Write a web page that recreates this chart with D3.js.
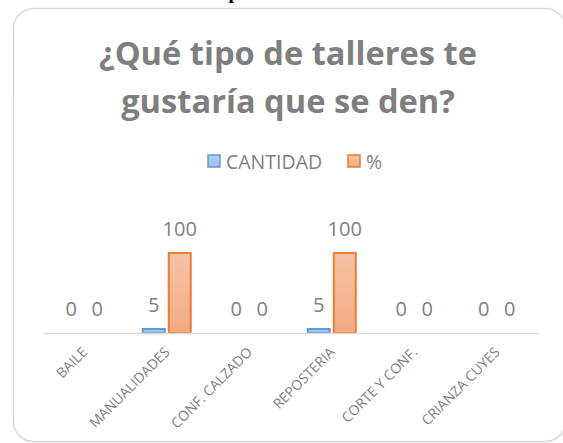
<!DOCTYPE html>
<html>
<head>
<meta charset="utf-8">
<script src="https://cdn.jsdelivr.net/npm/d3@7"></script>
<style>
  html, body { margin: 0; padding: 0; background: #ffffff; }
  svg { display: block; }
</style>
</head>
<body>
<svg id="chart" width="563" height="443"></svg>
<script>
// ---- data ----
const titleLines = ["¿Qué tipo de talleres te", "gustaría que se den?"];
const categories = ["BAILE", "MANUALIDADES", "CONF. CALZADO", "REPOSTERIA", "CORTE Y CONF.", "CRIANZA CUYES"];
const seriesNames = ["CANTIDAD", "%"];
const cantidad = [0, 5, 0, 5, 0, 0];
const porcentaje = [0, 100, 0, 100, 0, 0];

// ---- styles ----
const textColor = "#7f7f7f";
const fills = { "CANTIDAD": "url(#gBlue)", "%": "url(#gOrange)" };
const strokes = { "CANTIDAD": "#5b9bd5", "%": "#ed7d31" };

const svg = d3.select("#chart");

// gradients
const defs = svg.append("defs");
const gb = defs.append("linearGradient").attr("id", "gBlue").attr("x1", 0).attr("y1", 0).attr("x2", 0).attr("y2", 1);
gb.append("stop").attr("offset", "0%").attr("stop-color", "#b5cdef");
gb.append("stop").attr("offset", "100%").attr("stop-color", "#9dbbe6");
const go = defs.append("linearGradient").attr("id", "gOrange").attr("x1", 0).attr("y1", 0).attr("x2", 0).attr("y2", 1);
go.append("stop").attr("offset", "0%").attr("stop-color", "#f7c3a6");
go.append("stop").attr("offset", "100%").attr("stop-color", "#f4aa82");

// fragment of surrounding document text cut off at the top
svg.append("text")
  .attr("x", 234).attr("y", -2.5)
  .attr("text-anchor", "middle")
  .attr("font-family", "Liberation Serif")
  .attr("font-weight", "bold")
  .attr("font-size", 20)
  .attr("fill", "#000")
  .text("p");

// chart frame
svg.append("rect")
  .attr("x", 13.5).attr("y", 8.5)
  .attr("width", 552).attr("height", 433)
  .attr("rx", 20).attr("ry", 20)
  .attr("fill", "#fff")
  .attr("stroke", "#d9d9d9")
  .attr("stroke-width", 1.5);

// title
const titleSel = svg.append("g").selectAll("text")
  .data(titleLines)
  .join("text")
  .attr("x", 288)
  .attr("y", (d, i) => 65 + i * 48)
  .attr("text-anchor", "middle")
  .attr("font-family", "Open Sans")
  .attr("font-weight", "bold")
  .attr("font-size", 30)
  .attr("fill", textColor)
  .text(d => d);
const w0 = titleSel.node().getComputedTextLength();
const fs = 30 * 378 / w0;
titleSel.attr("font-size", fs);

// legend
const legendItems = [
  { name: seriesNames[0], x: 207, tx: 226 },
  { name: seriesNames[1], x: 347, tx: 366 }
];
const lg = svg.append("g");
lg.selectAll("rect")
  .data(legendItems)
  .join("rect")
  .attr("x", d => d.x + 1).attr("y", 155)
  .attr("width", 12).attr("height", 12)
  .attr("fill", d => fills[d.name])
  .attr("stroke", d => strokes[d.name])
  .attr("stroke-width", 1.5);
lg.selectAll("text")
  .data(legendItems)
  .join("text")
  .attr("x", d => d.tx).attr("y", 168.5)
  .attr("font-family", "Open Sans")
  .attr("font-size", 19.5)
  .attr("fill", textColor)
  .text(d => d.name);

// scales
const x0 = d3.scaleBand().domain(categories).range([43, 538]).paddingInner(0.394).paddingOuter(0.197);
const x1 = d3.scaleBand().domain(seriesNames).range([0, x0.bandwidth()]).paddingInner(0.08);
const y = d3.scaleLinear().domain([0, 120]).range([333, 237]);

const rows = categories.map((c, i) => ({ cat: c, vals: [
  { s: seriesNames[0], v: cantidad[i] },
  { s: seriesNames[1], v: porcentaje[i] }
]}));

const groups = svg.append("g").selectAll("g")
  .data(rows)
  .join("g")
  .attr("transform", d => `translate(${x0(d.cat)},0)`);

groups.selectAll("rect")
  .data(d => d.vals.filter(e => e.v > 0))
  .join("rect")
  .attr("x", e => x1(e.s) + 1)
  .attr("y", e => y(e.v))
  .attr("width", x1.bandwidth() - 2)
  .attr("height", e => y(0) - y(e.v))
  .attr("fill", e => fills[e.s])
  .attr("stroke", e => strokes[e.s])
  .attr("stroke-width", 2);

// axis
const xAxis = d3.axisBottom(x0).tickSize(0).tickPadding(0);
const ax = svg.append("g").attr("transform", `translate(0,${y(0)})`).call(xAxis);
ax.select(".domain").attr("stroke", "#d9d9d9").attr("stroke-width", 1.5);
ax.selectAll(".tick text")
  .attr("font-family", "Open Sans")
  .attr("font-size", 14)
  .attr("fill", textColor)
  .attr("text-anchor", "end")
  .attr("dy", null)
  .attr("y", 0)
  .attr("transform", "translate(4,20) rotate(-45)");

// value labels
groups.selectAll("text.val")
  .data(d => d.vals)
  .join("text")
  .attr("class", "val")
  .attr("x", e => x1(e.s) + x1.bandwidth() / 2)
  .attr("y", e => y(e.v) - 17)
  .attr("text-anchor", "middle")
  .attr("font-family", "Open Sans")
  .attr("font-size", 20)
  .attr("fill", textColor)
  .text(e => e.v);
</script>
</body>
</html>
